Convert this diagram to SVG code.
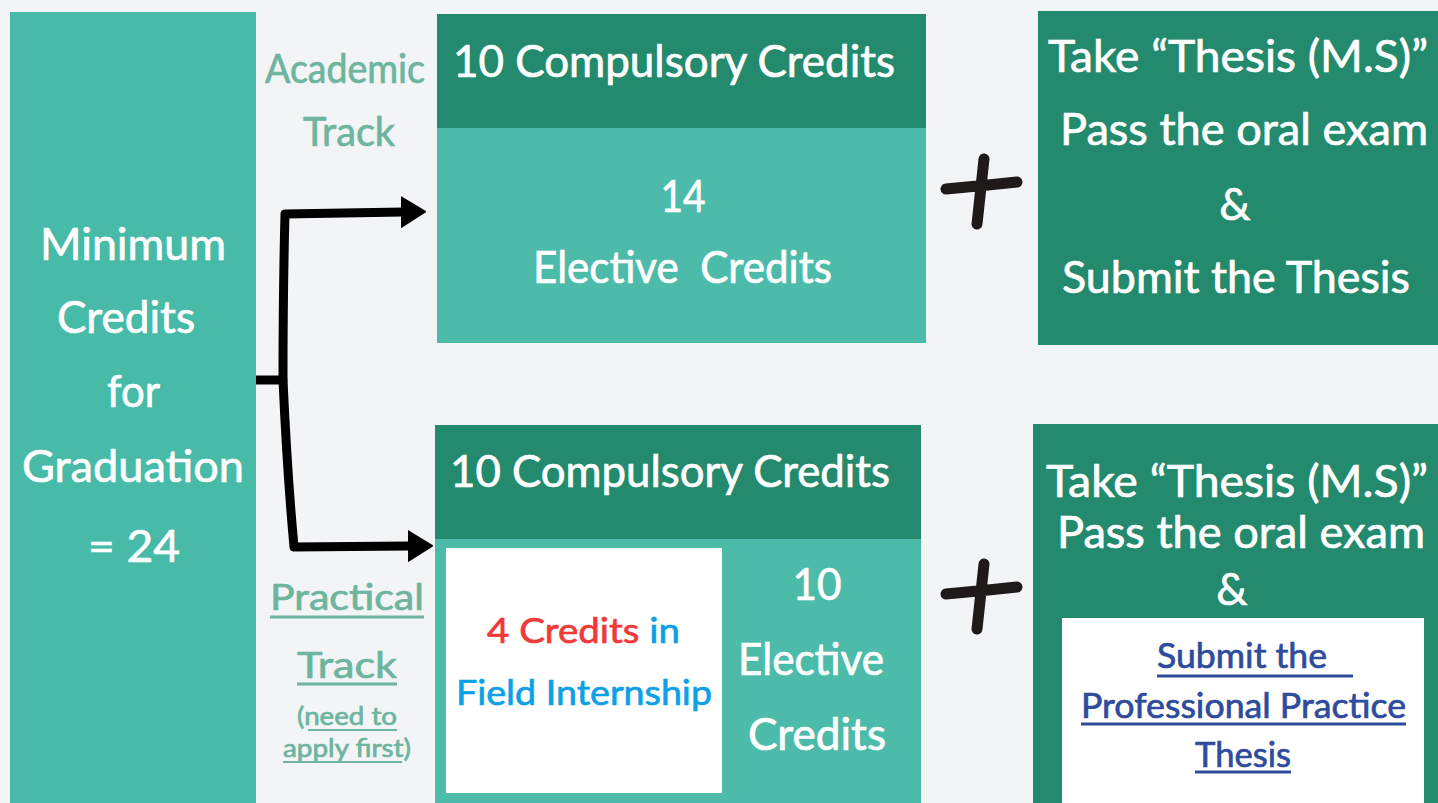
<svg xmlns="http://www.w3.org/2000/svg" width="1438" height="803" viewBox="0 0 1438 803">
<defs>
<style>
.t{font-family:Lato,"Open Sans","Liberation Sans",sans-serif;text-anchor:middle;stroke-width:0.7px}
.w{fill:#FFFFFF;stroke:#FFFFFF;font-size:44px}
.lbl{fill:#6DB59E;stroke:#6DB59E}
.ul{stroke-width:3}
.dark{fill:#238A6D}
.body{fill:#4DBBAA}
.conn{fill:none;stroke:#000;stroke-width:9;stroke-linecap:round;stroke-linejoin:round}
.plus{fill:none;stroke:#1E1A1A;stroke-width:11;stroke-linecap:round}
</style>
<marker id="ah" markerUnits="userSpaceOnUse" markerWidth="30" markerHeight="34" refX="2" refY="16" orient="auto">
<path d="M0,1 L24,16 L0,31 z" fill="#000" stroke="#000" stroke-width="2" stroke-linejoin="round"/>
</marker>
</defs>
<rect width="1438" height="803" fill="#F3F4F6"/>

<g id="min-credits">
<rect x="10" y="12" width="246" height="791" fill="#47BAA8"/>
<text class="t w" x="133" y="260" textLength="186" lengthAdjust="spacingAndGlyphs">Minimum</text>
<text class="t w" x="126" y="333" textLength="138" lengthAdjust="spacingAndGlyphs">Credits</text>
<text class="t w" x="133.5" y="407" textLength="53" lengthAdjust="spacingAndGlyphs">for</text>
<text class="t w" x="133" y="482" textLength="222" lengthAdjust="spacingAndGlyphs">Graduation</text>
<text class="t w" x="134" y="562" textLength="92" lengthAdjust="spacingAndGlyphs">= 24</text>
</g>

<g id="academic-label">
<text class="t lbl" x="345" y="83" font-size="40" textLength="160" lengthAdjust="spacingAndGlyphs">Academic</text>
<text class="t lbl" x="349" y="146" font-size="40" textLength="92" lengthAdjust="spacingAndGlyphs">Track</text>
</g>

<g id="practical-label">
<text class="t lbl" x="347" y="610" font-size="36" textLength="154" lengthAdjust="spacingAndGlyphs">Practical</text>
<line x1="270" y1="617" x2="424" y2="617" stroke="#6DB59E" class="ul"/>
<text class="t lbl" x="347" y="678" font-size="36" textLength="100" lengthAdjust="spacingAndGlyphs">Track</text>
<line x1="297" y1="684" x2="397" y2="684" stroke="#6DB59E" class="ul"/>
<text class="t lbl" x="347" y="725" font-size="25" textLength="100" lengthAdjust="spacingAndGlyphs">(need to</text>
<line x1="308" y1="730" x2="397" y2="730" stroke="#6DB59E" stroke-width="2"/>
<text class="t lbl" x="347" y="757" font-size="25" textLength="128" lengthAdjust="spacingAndGlyphs">apply first)</text>
<line x1="283" y1="762" x2="402" y2="762" stroke="#6DB59E" stroke-width="2"/>
</g>

<g id="academic-credits">
<rect class="body" x="437" y="128" width="489" height="215"/>
<rect class="dark" x="437" y="14" width="489" height="114"/>
<text class="t w" x="674" y="77" textLength="442" lengthAdjust="spacingAndGlyphs">10 Compulsory Credits</text>
<text class="t w" x="683" y="212" textLength="45" lengthAdjust="spacingAndGlyphs">14</text>
<text class="t w" x="682.5" y="283" textLength="299" lengthAdjust="spacingAndGlyphs" xml:space="preserve">Elective  Credits</text>
</g>

<g id="academic-thesis">
<rect class="dark" x="1038" y="11" width="400" height="334"/>
<text class="t w" x="1238" y="72" textLength="380" lengthAdjust="spacingAndGlyphs">Take “Thesis (M.S)”</text>
<text class="t w" x="1244" y="145" textLength="368" lengthAdjust="spacingAndGlyphs">Pass the oral exam</text>
<text class="t w" x="1235" y="220">&amp;</text>
<text class="t w" x="1236" y="293" textLength="348" lengthAdjust="spacingAndGlyphs">Submit the Thesis</text>
</g>

<g id="practical-credits">
<rect class="body" x="435" y="539" width="486" height="264"/>
<rect class="dark" x="435" y="425" width="486" height="114"/>
<text class="t w" x="670" y="487" textLength="440" lengthAdjust="spacingAndGlyphs">10 Compulsory Credits</text>
<rect x="446" y="548" width="276" height="245" fill="#FFFFFF"/>
<text class="t" x="583.5" y="643" font-size="35" textLength="193" lengthAdjust="spacingAndGlyphs"><tspan fill="#F03A3A" stroke="#F03A3A">4 Credits </tspan><tspan fill="#0EA0E6" stroke="#0EA0E6">in</tspan></text>
<text class="t" x="584" y="705" font-size="35" fill="#0EA0E6" stroke="#0EA0E6" textLength="256" lengthAdjust="spacingAndGlyphs">Field Internship</text>
<text class="t w" x="817" y="600" font-size="38" textLength="49" lengthAdjust="spacingAndGlyphs">10</text>
<text class="t w" x="811" y="675" textLength="146" lengthAdjust="spacingAndGlyphs">Elective</text>
<text class="t w" x="817" y="750" textLength="138" lengthAdjust="spacingAndGlyphs">Credits</text>
</g>

<g id="practical-thesis">
<rect class="dark" x="1033" y="424" width="405" height="379"/>
<text class="t w" x="1237" y="497" textLength="382" lengthAdjust="spacingAndGlyphs">Take “Thesis (M.S)”</text>
<text class="t w" x="1241" y="548" textLength="368" lengthAdjust="spacingAndGlyphs">Pass the oral exam</text>
<text class="t w" x="1232" y="605">&amp;</text>
<rect x="1062" y="618" width="362" height="185" fill="#FFFFFF"/>
<text class="t" x="1242" y="668" font-size="35" fill="#2E4B9C" stroke="#2E4B9C" textLength="170" lengthAdjust="spacingAndGlyphs">Submit the</text>
<line x1="1157" y1="676" x2="1353" y2="676" stroke="#2E4B9C" class="ul"/>
<text class="t" x="1243.5" y="718" font-size="35" fill="#2E4B9C" stroke="#2E4B9C" textLength="325" lengthAdjust="spacingAndGlyphs">Professional Practice</text>
<line x1="1081" y1="724" x2="1406" y2="724" stroke="#2E4B9C" class="ul"/>
<text class="t" x="1243" y="767" font-size="35" fill="#2E4B9C" stroke="#2E4B9C" textLength="96" lengthAdjust="spacingAndGlyphs">Thesis</text>
<line x1="1195" y1="772" x2="1291" y2="772" stroke="#2E4B9C" class="ul"/>
</g>

<g id="connectors">
<path d="M256 380 H284" fill="none" stroke="#000" stroke-width="9"/>
<path class="conn" d="M283 380 Q283 290 285 214 L403 212" marker-end="url(#ah)"/>
<path class="conn" d="M283 380 Q287 470 294 547 L410 546" marker-end="url(#ah)"/>
</g>

<g id="plus-signs">
<path class="plus" d="M946 189 Q980 186 1017 182 M984 159 Q980 195 977 224"/>
<path class="plus" d="M946 594 Q980 591 1017 587 M984 564 Q980 600 977 629"/>
</g>
</svg>
